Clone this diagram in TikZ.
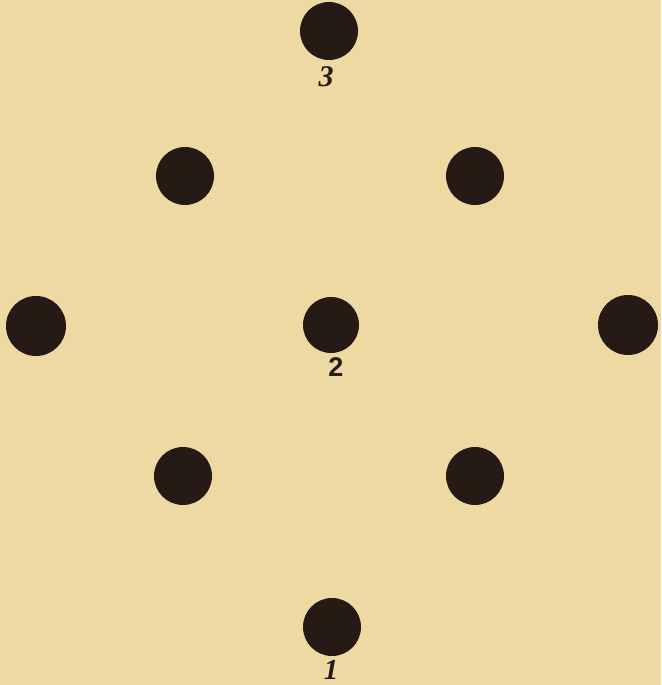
\documentclass[tikz,border=0pt]{standalone}
\usepackage{fontspec}
\setmainfont{Liberation Serif}
\newfontfamily\lsans{Liberation Sans}
\definecolor{paper}{RGB}{238,217,163}
\definecolor{ink}{RGB}{38,26,22}
\begin{document}
\begin{tikzpicture}[x=1pt,y=-1pt,
  dot/.style={circle,fill=ink,inner sep=0pt,minimum size=58pt},
  numlbl/.style={text=ink,inner sep=0pt}]
\fill[paper] (0,0) rectangle (661,685);
\useasboundingbox (0,0) rectangle (661,685);
\node[dot] (d3) at (329,31) {};
\node[dot] (ul) at (185,176) {};
\node[dot] (ur) at (475,176) {};
\node[dot,minimum size=60pt] (l) at (36,326) {};
\node[dot,minimum size=56pt] (d2) at (331,325) {};
\node[dot,minimum size=60pt] (r) at (628,325) {};
\node[dot] (ll) at (183,476) {};
\node[dot] (lr) at (475,476) {};
\node[dot] (d1) at (332,627) {};
\node[numlbl,font=\fontsize{30}{30}\selectfont\bfseries\itshape] (t3) at (326,77) {3};
\node[numlbl,font=\lsans\bfseries\fontsize{27}{27}\selectfont] (t2) at (336,367) {2};
\node[numlbl,font=\fontsize{29}{29}\selectfont\bfseries\itshape] (t1) at (331,670) {1};
\end{tikzpicture}
\end{document}
